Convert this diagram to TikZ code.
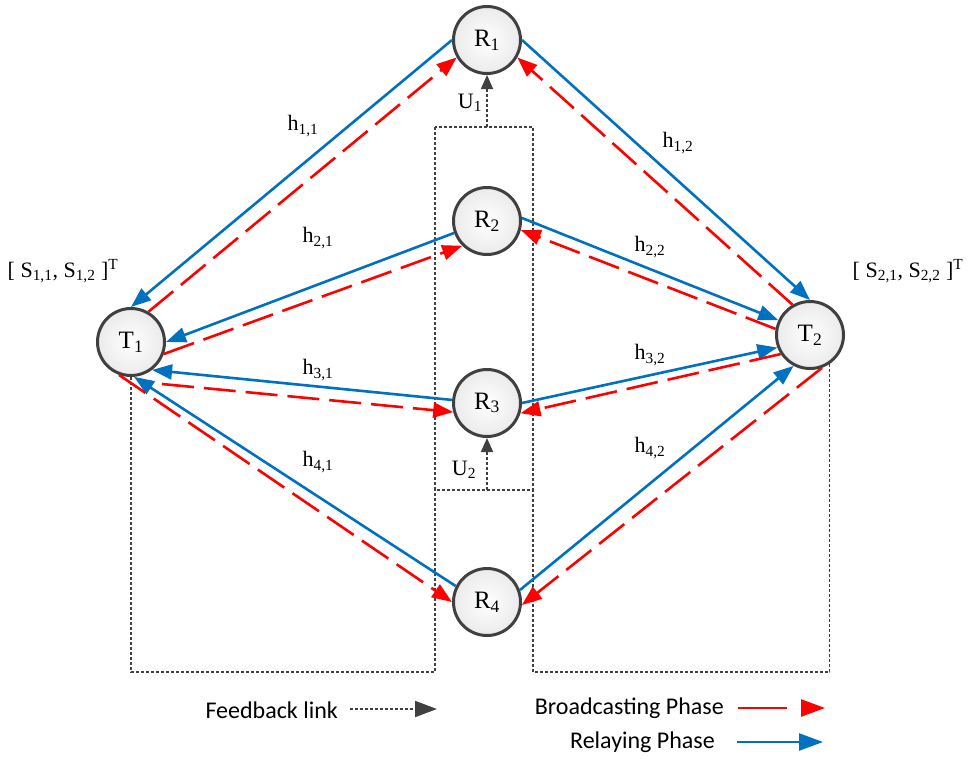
\documentclass[tikz,border=0pt]{standalone}
\usepackage{fontspec}
\setmainfont{Liberation Serif}
\newfontfamily\legendfont{Carlito}
\usetikzlibrary{arrows.meta,calc}
\definecolor{relayblue}{HTML}{0070C0}
\definecolor{bcred}{HTML}{FF0000}
\definecolor{edgegray}{HTML}{404040}
\begin{document}
\begin{tikzpicture}[x=1pt,y=-1pt,
  station/.style={circle, draw=edgegray, line width=3pt, minimum size=67pt, inner sep=0pt,
    inner color=white, outer color=gray!16, font=\fontsize{25}{27}\selectfont},
  relay/.style={draw=relayblue, line width=2.6pt, -{Triangle[length=20pt,width=15pt]}},
  bcast/.style={draw=bcred, line width=2.6pt, dash pattern=on 32pt off 10pt, -{Triangle[length=20pt,width=15pt]}},
  fb/.style={draw=edgegray, line width=1.8pt, dash pattern=on 3pt off 2pt},
  fbarrow/.style={fb, -{Triangle[length=14pt,width=12pt]}},
  lab/.style={font=\fontsize{22}{24}\selectfont, inner sep=0pt},
  legend/.style={font=\legendfont\fontsize{24}{27}\selectfont, inner sep=0pt}]
\useasboundingbox (0,0) rectangle (969,758);

% stations
\node[station] (R1) at (487,40) {R\textsubscript{1}};
\node[station] (R2) at (487,221) {R\textsubscript{2}};
\node[station] (R3) at (487,403) {R\textsubscript{3}};
\node[station] (R4) at (487,602) {R\textsubscript{4}};
\node[station] (T1) at (131,342) {T\textsubscript{1}};
\node[station] (T2) at (810,335) {T\textsubscript{2}};

% feedback links
\coordinate (boxTL) at (435,127);
\coordinate (boxBR) at (533,490);
\coordinate (boxT) at (487,127);
\coordinate (boxB) at (487,490);
\coordinate (boxBL) at (435,490);
\coordinate (fbL) at (435,672);
\coordinate (fbR) at (533,672);
\draw[fb] (boxTL) rectangle (boxBR);
\draw[fb] (T1.270) |- (fbL) -- (boxBL);
\draw[fb] (T2.304) |- (fbR) -- (533,490);
\draw[fbarrow] (boxT) -- (R1.270);
\draw[fbarrow] (boxB) -- (R3.270);

% relaying phase (blue)
\draw[relay] (R1.180) -- (T1.90);
\draw[relay] (R1.0) -- (T2.90);
\draw[relay] (R2.200) -- (T1.0);
\draw[relay] (R2.5) -- (T2.155);
\draw[relay] (R3.175) -- (T1.307);
\draw[relay] (R3.0) -- (T2.201);
\draw[relay] (R4.153) -- (T1.275);
\draw[relay] (R4.20) -- (T2.242);

% broadcasting phase (red)
\coordinate (t1r3) at (162,384);
\draw[bcast] (T1.60) -- (R1.210);
\draw[bcast] (T2.120) -- (R1.330);
\draw[bcast] (T1.340) -- (R2.225);
\draw[bcast] (T2.170) -- (R2.345);
\draw[bcast] (t1r3) -- (R3.195);
\draw[bcast] (T2.213) -- (R3.343);
\draw[bcast] (T1.250) -- (R4.180);
\draw[bcast] (T2.290) -- (R4.355);

% labels
\node[lab] (h11) at (303,126) {h\textsubscript{1,1}};
\node[lab] (h12) at (678,143) {h\textsubscript{1,2}};
\node[lab] (h21) at (318,238) {h\textsubscript{2,1}};
\node[lab] (h22) at (650,247) {h\textsubscript{2,2}};
\node[lab] (h31) at (318,370) {h\textsubscript{3,1}};
\node[lab] (h32) at (650,355) {h\textsubscript{3,2}};
\node[lab] (h41) at (318,462) {h\textsubscript{4,1}};
\node[lab] (h42) at (650,448) {h\textsubscript{4,2}};
\node[lab] (U1) at (470,103) {U\textsubscript{1}};
\node[lab] (U2) at (464,470) {U\textsubscript{2}};
\node[lab] (S1) at (63,271) {[ S\textsubscript{1,1}, S\textsubscript{1,2} ]\textsuperscript{T}};
\node[lab] (S2) at (908,271) {[ S\textsubscript{2,1}, S\textsubscript{2,2} ]\textsuperscript{T}};

% legend
\node[legend, anchor=east] (fbtext) at (338,710) {Feedback link};
\coordinate (fbs) at (350,709);
\coordinate (fbe) at (437,709);
\draw[fb, -{Triangle[length=22pt,width=16pt]}] (fbs) -- (fbe);
\node[legend, anchor=east] (bctext) at (724,708) {Broadcasting Phase};
\coordinate (bcs) at (738,708);
\coordinate (bce) at (825,708);
\draw[draw=bcred, line width=2.6pt, dash pattern=on 49pt off 40pt, -{Triangle[length=24pt,width=17pt]}] (bcs) -- (bce);
\node[legend, anchor=east] (rltext) at (715,742) {Relaying Phase};
\coordinate (rls) at (737,742);
\coordinate (rle) at (823,742);
\draw[relay, -{Triangle[length=24pt,width=17pt]}] (rls) -- (rle);
\end{tikzpicture}
\end{document}
